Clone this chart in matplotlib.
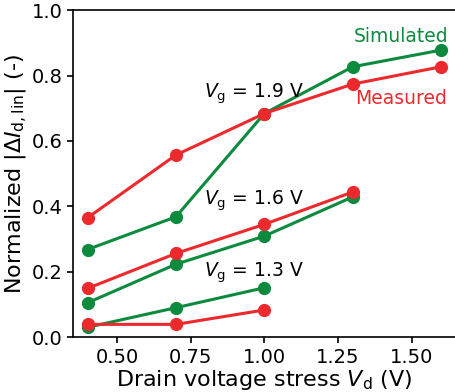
import matplotlib
matplotlib.use('Agg')
import matplotlib.pyplot as plt

vd_19 = [0.4, 0.7, 1.0, 1.3, 1.6]
sim_19 = [0.268, 0.368, 0.684, 0.827, 0.878]
meas_19 = [0.365, 0.557, 0.684, 0.774, 0.827]

vd_16 = [0.4, 0.7, 1.0, 1.3]
sim_16 = [0.105, 0.223, 0.309, 0.429]
meas_16 = [0.149, 0.256, 0.345, 0.444]

vd_13 = [0.4, 0.7, 1.0]
sim_13 = [0.030, 0.090, 0.151]
meas_13 = [0.039, 0.039, 0.083]

green = '#0c8a3e'
red = '#ec2a2e'

fig = plt.figure(figsize=(4.55, 3.92), dpi=100)
ax = fig.add_axes([0.160, 0.140, 0.842, 0.834])

for vd, sim, meas in [(vd_19, sim_19, meas_19), (vd_16, sim_16, meas_16), (vd_13, sim_13, meas_13)]:
    ax.plot(vd, sim, '-o', color=green, lw=2.2, ms=8.5)
    ax.plot(vd, meas, '-o', color=red, lw=2.2, ms=8.5)

ax.text(0.795, 0.745, r'$V_{\rm g}$ = 1.9 V', fontsize=13.5, va='center')
ax.text(0.795, 0.418, r'$V_{\rm g}$ = 1.6 V', fontsize=13.5, va='center')
ax.text(0.795, 0.198, r'$V_{\rm g}$ = 1.3 V', fontsize=13.5, va='center')
ax.text(1.463, 0.92, 'Simulated', color=green, fontsize=13.5, ha='center', va='center')
ax.text(1.463, 0.73, 'Measured', color=red, fontsize=13.5, ha='center', va='center')

ax.set_xlim(0.35, 1.65)
ax.set_ylim(0, 1.0)
ax.set_xticks([0.5, 0.75, 1.0, 1.25, 1.5])
ax.set_xticklabels(['0.50', '0.75', '1.00', '1.25', '1.50'])
ax.set_yticks([0.0, 0.2, 0.4, 0.6, 0.8, 1.0])
ax.tick_params(labelsize=14, width=1.2, length=4)
ax.set_xlabel(r'Drain voltage stress $V_{\rm d}$ (V)', fontsize=16, labelpad=1)
ax.set_ylabel(r'Normalized $|\Delta I_{\rm d,lin}|$ (-)', fontsize=16, labelpad=2)
for s in ax.spines.values():
    s.set_linewidth(1.2)
ax.spines['right'].set_visible(False)

fig.savefig('out.png', dpi=100)
